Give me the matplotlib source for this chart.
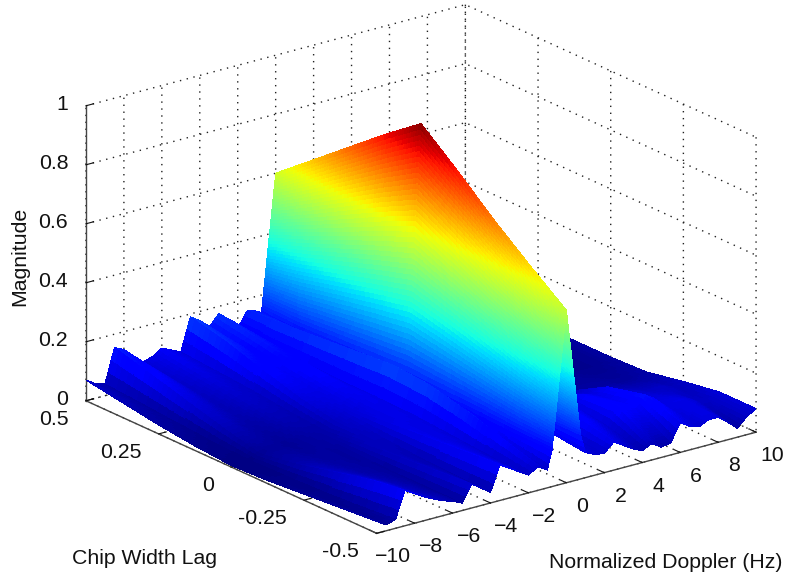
import numpy as np
import matplotlib
matplotlib.use('Agg')
import matplotlib.pyplot as plt

plt.rcParams['font.family'] = ['Liberation Sans', 'DejaVu Sans']

# axis samples of the table below
doppler = [-10, -9.5, -9, -8.5, -8, -7.5, -7, -6.5, -6, -5.5, -5, -4.5, -4, -3.5, -3, -2.5, -2, -1.5, -1,
           -0.75, 0, 0.75,
           1, 1.5, 2, 2.5, 3, 3.5, 4, 4.5, 5, 5.5, 6, 6.5, 7, 7.5, 8, 8.5, 9, 9.5, 10]
lag = [-0.5, -0.375, -0.25, -0.125, 0, 0.125, 0.25, 0.375, 0.5]

# magnitude, one list per lag
mag_m0500 = [.04, .02, .03, .12, .10, .08, .065, .05, .04, .025, .08, .06, .035, .12, .10, .08, .06, .08, .06,
             .125, .585, .15,
             .085, .07, .065, .095, .075, .055, .04, .055, .035, .04, .10, .08, .07, .085, .085, .06, .03, .06, .08]
mag_m0375 = [.03, .015, .02, .10, .085, .07, .055, .045, .035, .025, .07, .055, .04, .11, .095, .08, .065, .12, .09,
             .125, .68, .15,
             .10, .09, .07, .12, .11, .09, .07, .13, .12, .11, .14, .12, .09, .09, .09, .08, .06, .06, .08]
mag_m0250 = [.02, .012, .012, .07, .06, .05, .04, .035, .03, .025, .06, .05, .045, .10, .09, .085, .075, .16, .13,
             .13, .78, .14,
             .12, .14, .10, .11, .12, .11, .09, .11, .10, .09, .11, .09, .07, .07, .06, .06, .06, .05, .06]
mag_m0125 = [.01, .008, .008, .04, .04, .035, .03, .03, .025, .03, .05, .055, .055, .09, .09, .09, .085, .19, .15,
             .13, .89, .14,
             .14, .16, .10, .08, .08, .08, .06, .05, .05, .05, .04, .03, .03, .03, .03, .025, .025, .03, .035]
mag_p0000 = [.005, .005, .005, .02, .025, .025, .02, .025, .03, .035, .035, .06, .07, .08, .09, .095, .09, .20, .15,
             .13, .993, .13,
             .13, .15, .09, .06, .05, .05, .04, .03, .03, .03, .025, .02, .02, .02, .015, .015, .015, .02, .03]
mag_p0125 = [.015, .012, .01, .05, .05, .04, .035, .04, .05, .05, .045, .085, .09, .09, .105, .105, .09, .19, .15,
             .13, .90, .13,
             .13, .14, .09, .06, .05, .05, .04, .03, .03, .03, .025, .02, .02, .02, .02, .015, .015, .02, .03]
mag_p0250 = [.03, .025, .02, .085, .08, .065, .05, .06, .07, .065, .06, .12, .115, .105, .125, .12, .095, .18, .15,
             .13, .80, .13,
             .13, .12, .08, .05, .05, .06, .045, .03, .04, .04, .03, .025, .03, .03, .02, .02, .02, .025, .03]
mag_p0375 = [.05, .04, .03, .12, .11, .09, .065, .075, .09, .08, .07, .16, .145, .125, .15, .135, .10, .17, .15,
             .13, .70, .13,
             .13, .11, .08, .06, .07, .08, .05, .04, .05, .06, .04, .03, .04, .04, .03, .02, .03, .03, .03]
mag_p0500 = [.07, .05, .04, .155, .14, .11, .08, .09, .11, .095, .08, .19, .17, .14, .175, .15, .11, .16, .15,
             .14, .60, .13,
             .14, .12, .09, .06, .08, .10, .07, .04, .06, .08, .05, .03, .05, .06, .04, .02, .04, .05, .03]

xticks = [-10, -8, -6, -4, -2, 0, 2, 4, 6, 8, 10]
yticks = [-0.5, -0.25, 0, 0.25, 0.5]
yticklabels = ['-0.5', '-0.25', '0', '0.25', '0.5']
zticks = [0, 0.2, 0.4, 0.6, 0.8, 1]
zticklabels = ['0', '0.2', '0.4', '0.6', '0.8', '1']


def shading_interp(x, y, z, ny=16):
    # same idea as matlab's "shading interp": split each cell so the colour runs smoothly over it
    # the wide cells on either side of the ridge need a lot more steps
    x = np.asarray(x, float)
    y = np.asarray(y, float)
    xf = np.concatenate([np.linspace(a, b, 48 if b - a > 0.7 else 3, endpoint=False)
                         for a, b in zip(x[:-1], x[1:])] + [x[-1:]])
    yf = np.concatenate([np.linspace(a, b, ny, endpoint=False) for a, b in zip(y[:-1], y[1:])] + [y[-1:]])
    zx = np.array([np.interp(xf, x, row) for row in z])
    zf = np.array([np.interp(yf, y, col) for col in zx.T]).T
    return xf, yf, zf


W, H = 795, 583
fig = plt.figure(figsize=(W / 100, H / 100), dpi=100)

# square 3d axes, bigger than the figure so the box lands where it does in the picture
S = 724.0
left = 421 - 0.5135 * S
bottom = (H - 269) - 0.5135 * S
ax = fig.add_axes([left / W, bottom / H, S / W, S / H], projection='3d', proj_type='ortho')
ax.view_init(elev=20.4, azim=-127.4)
ax.set_box_aspect((478, 479, 315))
ax.patch.set_visible(False)

mag = np.array([mag_m0500, mag_m0375, mag_m0250, mag_m0125, mag_p0000,
                mag_p0125, mag_p0250, mag_p0375, mag_p0500])
xf, yf, zf = shading_interp(doppler, lag, mag)
X, Y = np.meshgrid(xf, yf)
ax.plot_surface(X, Y, zf, rstride=1, cstride=1, cmap='jet', vmin=0, vmax=1,
                linewidth=0, antialiased=False, shade=False)

ax.set_xlim(-10, 10, view_margin=0)
ax.set_ylim(-0.5, 0.5, view_margin=0)
ax.set_zlim(0, 1, view_margin=0)
ax.set_xticks(xticks)
ax.set_yticks(yticks)
ax.set_yticklabels(yticklabels)
ax.set_zticks(zticks)
ax.set_zticklabels(zticklabels)

for axis in (ax.xaxis, ax.yaxis, ax.zaxis):
    axis.pane.set_facecolor('white')
    axis.pane.set_edgecolor('none')
    axis.line.set_color('#444444')
    axis.line.set_linewidth(1.0)
    axis._axinfo['tick']['inward_factor'] = 0.0
    axis._axinfo['tick']['outward_factor'] = 0.25
    axis._axinfo['grid']['linestyle'] = (0, (1, 4))
    axis._axinfo['grid']['color'] = '#222222'
    axis._axinfo['grid']['linewidth'] = 1.0
ax.tick_params(axis='both', labelsize=15.3, colors='#111111')
ax.tick_params(axis='x', pad=7)
ax.tick_params(axis='y', pad=4.5)
ax.tick_params(axis='z', pad=-0.8)
plt.setp(ax.get_xticklabels(), va='center', ha='center')
plt.setp(ax.get_yticklabels(), va='center', ha='right')
plt.setp(ax.get_zticklabels(), va='center', ha='right')

fig.text(145 / W, 1 - 558 / H, 'Chip Width Lag', fontsize=15.3, ha='center', va='center', color='#111111')
fig.text(666 / W, 1 - 562 / H, 'Normalized Doppler (Hz)', fontsize=15.3, ha='center', va='center', color='#111111')
fig.text(20 / W, 1 - 256 / H, 'Magnitude', fontsize=15.3, rotation=90, ha='center', va='center', color='#111111')

fig.savefig('out.png', dpi=100)
